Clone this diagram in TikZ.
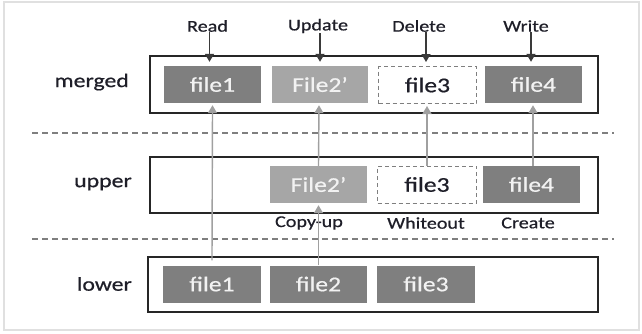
\documentclass[tikz,border=0pt]{standalone}
\usepackage{fontspec}
\setmainfont{Carlito}[FakeStretch=1.22,FakeBold=0.6]
\usetikzlibrary{arrows.meta}
\definecolor{fdark}{HTML}{7F7F7F}
\definecolor{flight}{HTML}{A6A6A6}
\definecolor{ftext}{HTML}{F2F2F2}
\definecolor{lbl}{HTML}{1E1E28}
\definecolor{garrow}{HTML}{A0A0A0}
\definecolor{barrow}{HTML}{3A3A3A}
\tikzset{
  layerbox/.style={draw=black!85, line width=1.4pt, fill=none},
  filebox/.style={inner sep=0pt, minimum height=37pt, text=ftext, font=\fontsize{21}{24}\selectfont},
  darkfile/.style={filebox, fill=fdark},
  lightfile/.style={filebox, fill=flight},
  wofile/.style={filebox, draw=fdark, dashed, dash pattern=on 4pt off 3pt, line width=1pt, text=lbl},
  layerlbl/.style={anchor=east, text=lbl, font=\fontsize{19.5}{22}\selectfont, inner sep=0pt},
  oplbl/.style={text=lbl, font=\fontsize{16.5}{19}\selectfont, inner sep=0pt},
  sep/.style={draw=fdark, line width=1.5pt, dash pattern=on 6pt off 4pt},
  blackarr/.style={draw=barrow, line width=1.4pt, -{Triangle[length=8pt,width=9pt]}},
  grayarr/.style={draw=garrow, line width=1.4pt, -{Triangle[length=8pt,width=9pt]}},
}
\begin{document}
\begin{tikzpicture}[x=1pt,y=-1pt]
\useasboundingbox (0,0) rectangle (642,333);
\draw[draw=black!12, line width=1.5pt] (4,2) rectangle (639,330);

% separators
\coordinate (s1a) at (32,133); \coordinate (s1b) at (614,133);
\coordinate (s2a) at (32,239); \coordinate (s2b) at (614,239);
\draw[sep] (s1a) -- (s1b);
\draw[sep] (s2a) -- (s2b);

% layer boxes
\node[layerbox, inner sep=0pt, minimum width=448pt, minimum height=57pt] (mbox) at (374,84.5) {};
\node[layerbox, inner sep=0pt, minimum width=448pt, minimum height=56pt] (ubox) at (374,185) {};
\node[layerbox, inner sep=0pt, minimum width=450pt, minimum height=55pt] (lbox) at (373,284.5) {};

% layer labels
\node[layerlbl] (lm) at (129,82) {merged};
\node[layerlbl] (lu) at (132,184) {upper};
\node[layerlbl] (ll) at (132,284) {lower};

% merged files
\node[darkfile, minimum width=97pt] (m1) at (212.5,84.5) {file1};
\node[lightfile, minimum width=96pt] (m2) at (320,84.5) {File2’};
\node[wofile, minimum width=98pt] (m3) at (427.5,85) {file3};
\node[darkfile, minimum width=97pt] (m4) at (533.5,84.5) {file4};

% upper files
\node[lightfile, minimum width=97pt] (u2) at (318.5,184.5) {File2’};
\node[wofile, minimum width=99pt] (u3) at (427,184.5) {file3};
\node[darkfile, minimum width=97pt] (u4) at (531.5,184.5) {file4};

% lower files
\node[darkfile, minimum width=98pt] (l1) at (212,284) {file1};
\node[darkfile, minimum width=97pt] (l2) at (318.5,284) {file2};
\node[darkfile, minimum width=98pt] (l3) at (426,284) {file3};

% operation labels
\node[oplbl] (read) at (207.5,26) {Read};
\node[oplbl] (update) at (318,26) {Update};
\node[oplbl] (delete) at (419,26) {Delete};
\node[oplbl] (write) at (526,26) {Write};
\node[oplbl] (copyup) at (309,223) {Copy-up};
\node[oplbl] (whiteout) at (426,223) {Whiteout};
\node[oplbl] (create) at (528,223) {Create};

% black arrows
\draw[blackarr] ([xshift=-3pt]read.south -| m1.north) -- ([xshift=-3pt,yshift=4pt]m1.north);
\draw[blackarr] (update.south -| m2.north) -- ([yshift=4pt]m2.north);
\draw[blackarr] ([xshift=-1.5pt]delete.south -| m3.north) -- ([xshift=-1.5pt,yshift=4pt]m3.north);
\draw[blackarr] ([xshift=-2.5pt]write.south -| m4.north) -- ([xshift=-2.5pt,yshift=4pt]m4.north);

% gray arrows
\draw[grayarr] ([yshift=5pt]l1.north) -- ([yshift=-2pt]m1.south);
\draw[grayarr] (l2.north) -- ([yshift=-2pt]u2.south);
\draw[grayarr] (u2.north) -- ([xshift=-1pt,yshift=-2pt]m2.south);
\draw[grayarr] (u3.north) -- ([yshift=-2pt]m3.south -| u3.north);
\draw[grayarr] ([xshift=1.5pt]u4.north) -- ([xshift=-0.5pt,yshift=-2pt]m4.south);
\end{tikzpicture}
\end{document}
